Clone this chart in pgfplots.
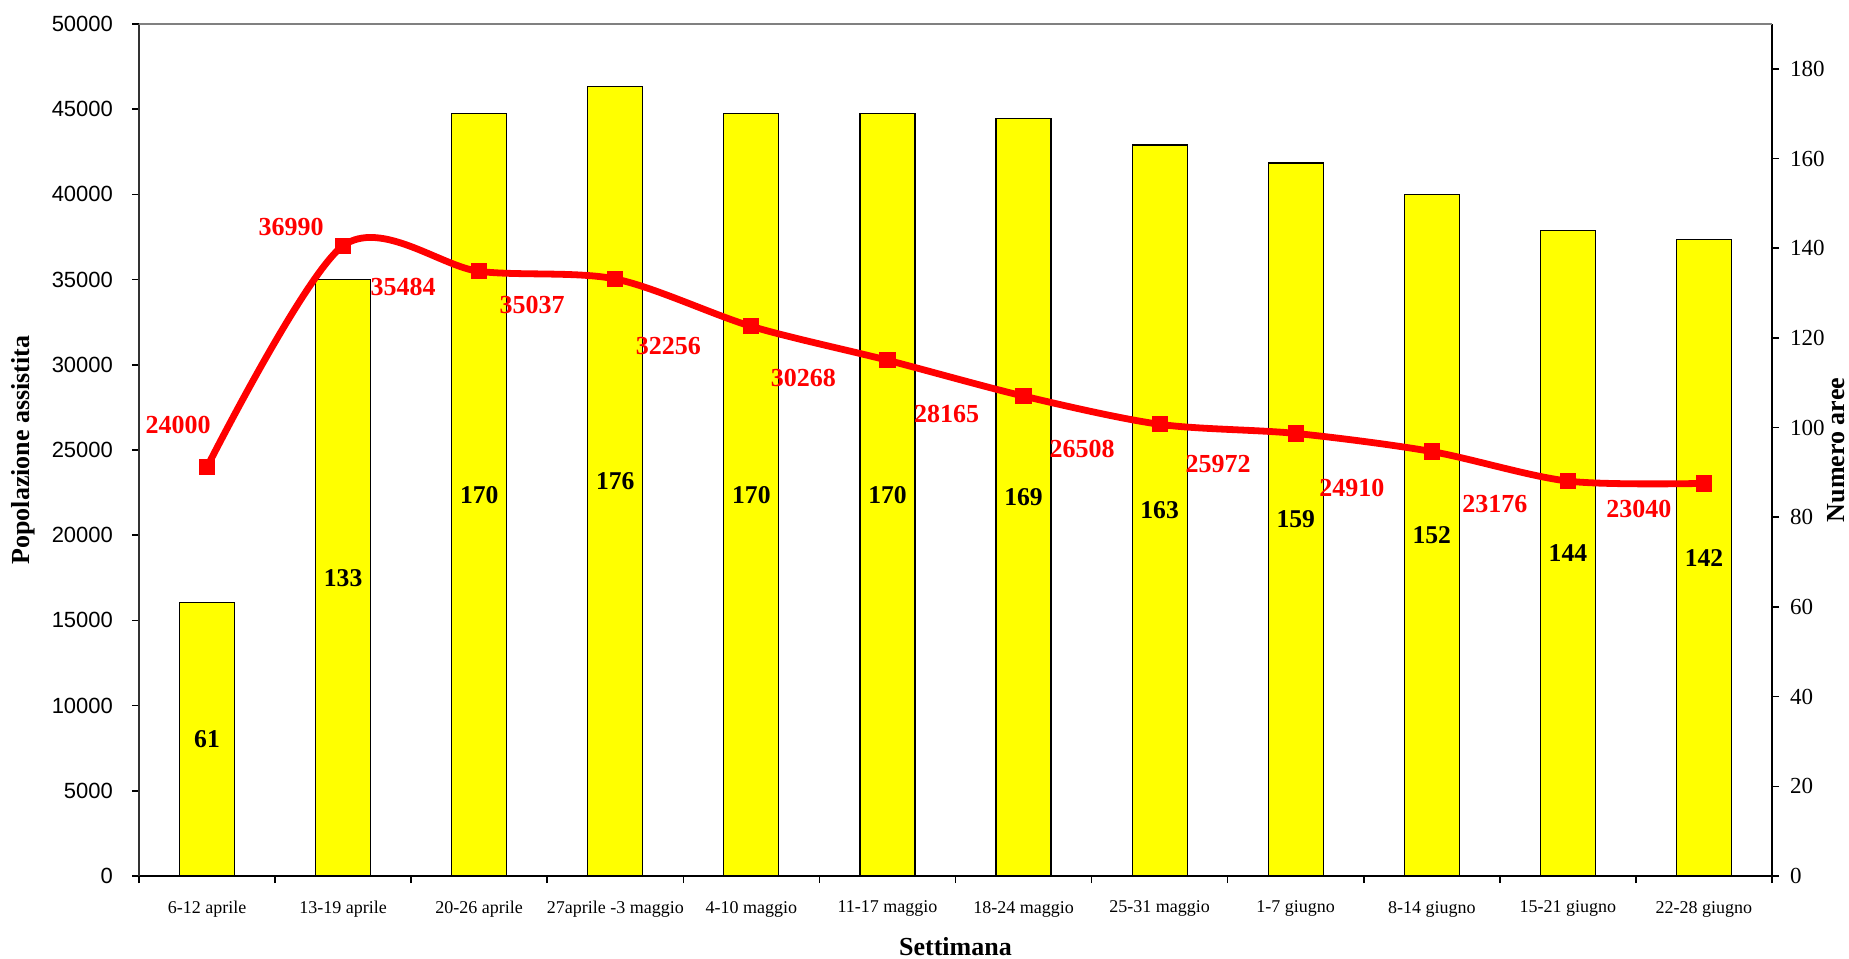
\documentclass[border=0pt]{standalone}
\usepackage{pgfplots}
\pgfplotsset{compat=1.18}
\usepackage{pgfplotstable}
\usepackage{fontspec}
\setmainfont{Liberation Serif}
\newfontfamily\tickfont{Liberation Sans}

\definecolor{barfill}{RGB}{255,255,0}
\definecolor{linered}{RGB}{255,0,0}
\definecolor{frame}{RGB}{128,128,128}

\pgfplotsset{/pgf/number format/.cd, 1000 sep={}, assume math mode=true}

% week index, assisted population, number of areas,
% and the offset (pt) of each population label from its marker
\pgfplotstableread{
x  pop    aree  dx     dy
0  24000  61    -14.5  20.8
1  36990  133   -26.0  9.4
2  35484  170   -38.0  -8.0
3  35037  176   -41.6  -12.8
4  32256  170   -41.5  -9.6
5  30268  170   -42.0  -9.0
6  28165  169   -38.5  -9.0
7  26508  163   -38.8  -12.1
8  25972  159   -38.8  -15.4
9  24910  152   -40.0  -18.0
10 23176  144   -36.5  -11.5
11 23040  142   -32.5  -13.0
}\datatable

\begin{document}
\begin{tikzpicture}
% right axis: number of areas (bars)
\begin{axis}[
  name=ax,
  scale only axis, width=816.5pt, height=426pt,
  xmin=-0.5, xmax=11.5,
  ymin=0, ymax=190,
  axis x line=none,
  axis y line*=right,
  y axis line style={line width=0.9pt, black},
  ytick={0,20,...,180},
  tick align=outside,
  major tick length=3.5pt,
  tick style={line width=0.8pt, black},
  yticklabel style={font=\fontsize{11.5}{13}\selectfont, xshift=2pt},
  every axis y label/.style={at={(axis description cs:1.0392,0.5)}, rotate=90, anchor=center,
    font=\bfseries\fontsize{13}{15}\selectfont},
  ylabel={Numero aree},
  clip=false,
]
\addplot[ybar, bar width=27.5pt, fill=barfill, draw=black, line width=0.6pt]
  table[x=x, y=aree]{\datatable};
\addplot[draw=none, mark=none, nodes near coords, point meta=explicit,
  every node near coord/.style={anchor=center, text=black,
    font=\bfseries\fontsize{12.8}{14}\selectfont}]
  table[x=x, y expr=\thisrow{aree}/2, meta=aree]{\datatable};
\end{axis}

% left axis: assisted population (smoothed line)
\begin{axis}[
  scale only axis, width=816.5pt, height=426pt,
  xmin=-0.5, xmax=11.5,
  ymin=0, ymax=50000,
  axis x line*=bottom,
  axis y line*=left,
  x axis line style={line width=0.9pt, black},
  y axis line style={line width=0.9pt, black!80},
  tick align=outside,
  major tick length=3.5pt,
  tick style={line width=0.8pt, black},
  xtick={-0.5,0.5,...,11.5},
  xticklabels={},
  extra x ticks={0,1,...,11},
  extra x tick labels={6-12 aprile,13-19 aprile,20-26 aprile,27aprile -3 maggio,4-10 maggio,11-17 maggio,18-24 maggio,25-31 maggio,1-7 giugno,8-14 giugno,15-21 giugno,22-28 giugno},
  extra x tick style={major tick length=0pt, tick style={draw=none}},
  xticklabel style={font=\fontsize{9}{11}\selectfont, yshift=-9pt},
  ytick={0,5000,...,50000},
  scaled y ticks=false,
  yticklabel style={font=\tickfont\fontsize{11}{13}\selectfont, xshift=-6pt},
  every axis y label/.style={at={(axis description cs:-0.0708,0.5)}, rotate=90, anchor=center,
    font=\bfseries\fontsize{13}{15}\selectfont},
  ylabel={Popolazione assistita},
  every axis x label/.style={at={(axis description cs:0.5,-0.0833)}, anchor=center,
    font=\bfseries\fontsize{13}{15}\selectfont},
  xlabel={Settimana},
  clip=false,
]
\addplot[linered, line width=3.4pt, smooth, mark=square*, mark size=3.8pt,
  mark options={solid, line width=0pt},
  nodes near coords, point meta=explicit,
  visualization depends on={\thisrow{dx}\as\labdx},
  visualization depends on={\thisrow{dy}\as\labdy},
  every node near coord/.style={anchor=center, xshift=\labdx pt, yshift=\labdy pt,
    text=linered, font=\bfseries\fontsize{13}{15}\selectfont}]
  table[x=x, y=pop, meta=pop]{\datatable};
\end{axis}

% upper edge of the plot area
\draw[frame, line width=0.8pt] (ax.north west) -- (ax.north east);

\pgfresetboundingbox
\path[use as bounding box] ([shift={(-69.5pt,-41pt)}]ax.south west)
  rectangle ([shift={(38.5pt,12pt)}]ax.north east);
\end{tikzpicture}
\end{document}
